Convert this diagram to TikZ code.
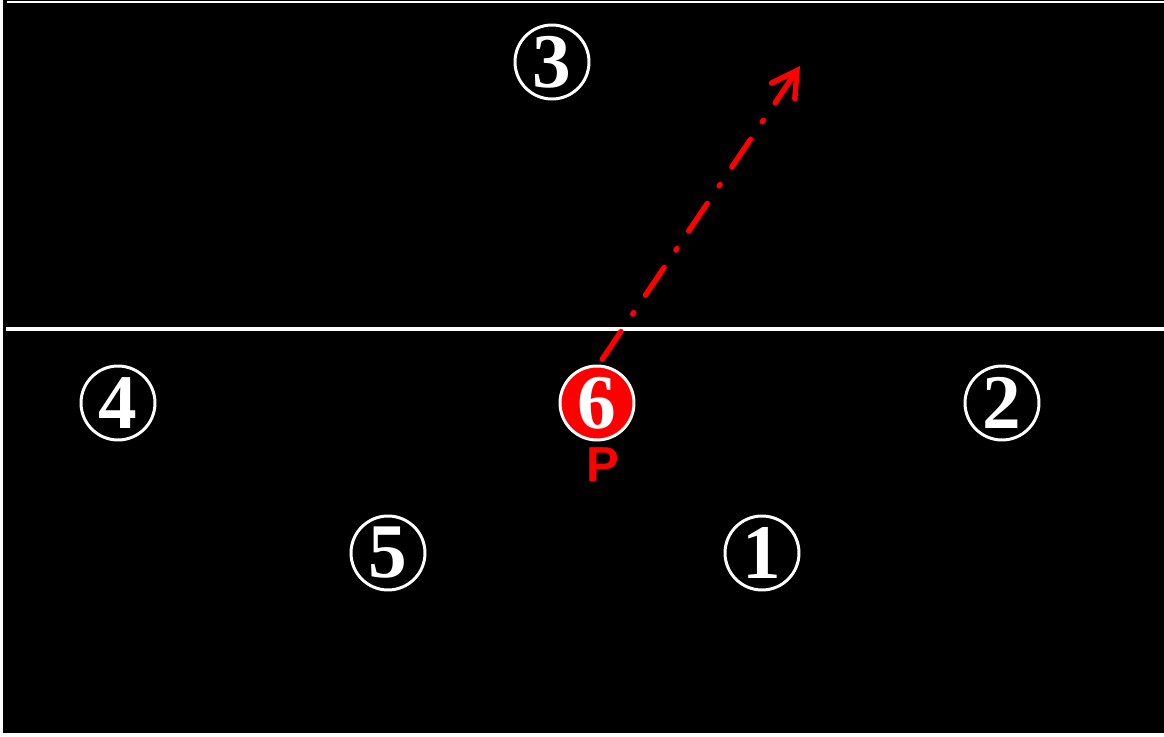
\documentclass[tikz,border=0pt]{standalone}
\usepackage{fontspec}
\setmainfont{Liberation Serif}
\setsansfont{Liberation Sans}
\usetikzlibrary{arrows.meta,positioning}

\begin{document}
\begin{tikzpicture}[
    x=0.02cm, y=-0.02cm,
    player/.style={circle, draw=white, line width=1.7pt, fill=black, text=white, minimum size=1.48cm, inner sep=0pt, font=\fontsize{44}{44}\selectfont\bfseries},
    setter/.style={player, fill=red},
    tag/.style={text=red, font=\fontsize{28}{28}\selectfont\sffamily\bfseries},
    court/.style={white, line width=2.3pt},
    pass/.style={red, line width=3.1pt, line cap=round, dash pattern=on 19pt off 12pt on 1pt off 12pt, -{Straight Barb[length=14pt 0, width=16pt 0, line cap=round]}}
]
    \useasboundingbox (0,0) rectangle (1164,737);
    \fill[black] (0,0) rectangle (1164,737);
    \fill[white] (0,0) rectangle (3,737);
    \fill[white] (0,733) rectangle (1164,737);
    \draw[white, line width=0.6pt] (7,2) -- (1164,2);
    \draw[court] (6,329) -- (1164,329);

    \node[player] (c3) at (552,62) {3};
    \node[player] (c4) at (118,403) {4};
    \node[setter] (c6) at (597,403) {6};
    \node[player] (c2) at (1002,403) {2};
    \node[player] (c5) at (388,553) {5};
    \node[player] (c1) at (762,553) {1};
    \node[tag] (lbl) at (603,465) {P};

    \coordinate (tip) at (800,66);
    \draw[pass] ([xshift=3pt,yshift=3pt]c6.north) -- (tip);
\end{tikzpicture}
\end{document}
